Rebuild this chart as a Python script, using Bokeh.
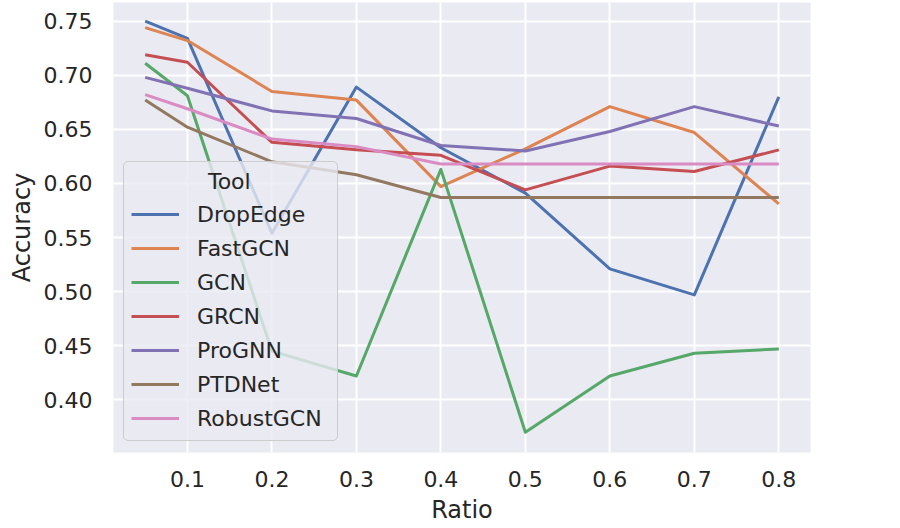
from bokeh.plotting import figure
from bokeh.models import Legend, LegendItem, FixedTicker, PrintfTickFormatter, Range1d
from bokeh.embed import file_html
from bokeh.resources import INLINE

ratios = [0.05, 0.1, 0.2, 0.3, 0.4, 0.5, 0.6, 0.7, 0.8]
tools = ["DropEdge", "FastGCN", "GCN", "GRCN", "ProGNN", "PTDNet", "RobustGCN"]
dropedge = [0.750, 0.734, 0.554, 0.689, 0.633, 0.591, 0.521, 0.497, 0.680]
fastgcn = [0.744, 0.732, 0.685, 0.677, 0.597, 0.632, 0.671, 0.647, 0.581]
gcn = [0.711, 0.681, 0.445, 0.422, 0.613, 0.370, 0.422, 0.443, 0.447]
grcn = [0.719, 0.712, 0.638, 0.631, 0.626, 0.594, 0.616, 0.611, 0.631]
prognn = [0.698, 0.688, 0.667, 0.660, 0.635, 0.630, 0.648, 0.671, 0.653]
ptdnet = [0.677, 0.652, 0.620, 0.608, 0.587, 0.587, 0.587, 0.587, 0.587]
robustgcn = [0.682, 0.669, 0.641, 0.634, 0.618, 0.618, 0.618, 0.618, 0.618]
series = [dropedge, fastgcn, gcn, grcn, prognn, ptdnet, robustgcn]
colors = ["#4C72B0", "#DD8452", "#55A868", "#C44E52", "#8172B3", "#937860", "#DA8BC3"]
x_ticks = [0.1, 0.2, 0.3, 0.4, 0.5, 0.6, 0.7, 0.8]
y_ticks = [0.40, 0.45, 0.50, 0.55, 0.60, 0.65, 0.70, 0.75]

TXT = "#262626"
FONT = "DejaVu Sans"

p = figure(frame_width=697, frame_height=450, output_backend="svg", toolbar_location=None,
           x_range=Range1d(0.0125, 0.8375), y_range=Range1d(0.3513, 0.7672),
           min_border_left=113, min_border_right=74, min_border_top=2, min_border_bottom=76)
p.background_fill_color = "#EAEAF2"
p.border_fill_color = "white"
p.outline_line_color = None

items = []
for name, vals, c in zip(tools, series, colors):
    r = p.line(ratios, vals, line_color=c, line_width=3, line_join="round")
    items.append(LegendItem(label=name, renderers=[r]))

for ax in (p.xaxis[0], p.yaxis[0]):
    ax.axis_line_color = None
    ax.major_tick_line_color = None
    ax.minor_tick_line_color = None
    ax.major_tick_out = 0
    ax.major_tick_in = 0
    ax.minor_tick_out = 0
    ax.major_label_text_font = FONT
    ax.major_label_text_font_size = "22px"
    ax.major_label_text_color = TXT
    ax.axis_label_text_font = FONT
    ax.axis_label_text_font_size = "24px"
    ax.axis_label_text_font_style = "normal"
    ax.axis_label_text_color = TXT

p.xaxis.ticker = FixedTicker(ticks=x_ticks)
p.yaxis.ticker = FixedTicker(ticks=y_ticks)
p.yaxis.formatter = PrintfTickFormatter(format="%.2f")
p.xaxis.axis_label = "Ratio"
p.yaxis.axis_label = "Accuracy"
p.xaxis.major_label_standoff = 18
p.yaxis.major_label_standoff = 21
p.xaxis.axis_label_standoff = 6
p.yaxis.axis_label_standoff = 5

p.xgrid.ticker = FixedTicker(ticks=x_ticks)
p.ygrid.ticker = FixedTicker(ticks=y_ticks)
for g in (p.xgrid[0], p.ygrid[0]):
    g.grid_line_color = "white"
    g.grid_line_width = 2

legend = Legend(items=items, location=(10, 11),
                title="\u00a0" * 11 + "Tool",
                title_text_font=FONT, title_text_font_size="22px",
                title_text_font_style="normal", title_text_color=TXT,
                title_standoff=5,
                label_text_font=FONT, label_text_font_size="22px", label_text_color=TXT,
                glyph_width=48, glyph_height=30, label_height=30, label_width=133,
                label_standoff=18, spacing=4, padding=7, margin=0,
                background_fill_color="#EAEAF2", background_fill_alpha=0.8,
                border_line_color="#CCCCCC", border_line_width=1.5, border_line_alpha=1.0,
                border_radius=5)
p.add_layout(legend, "center")

open("out.html", "w").write(file_html(p, INLINE))
